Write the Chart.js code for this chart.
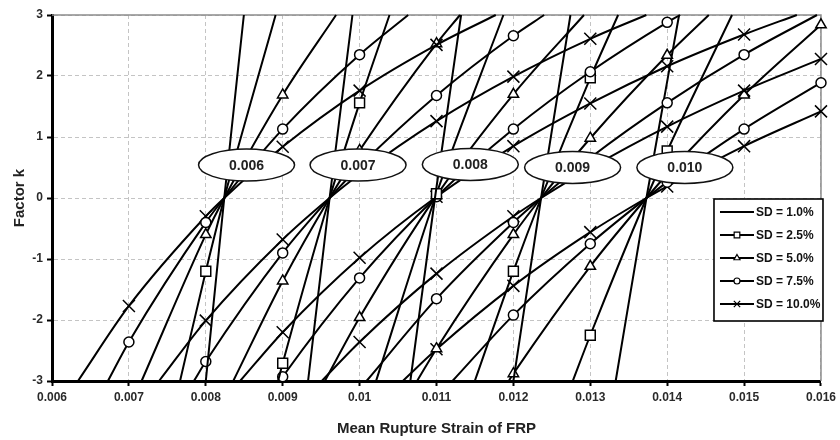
<!DOCTYPE html>
<html>
<head>
<meta charset="utf-8">
<script src="https://cdn.jsdelivr.net/npm/chart.js@4/dist/chart.umd.min.js"></script>
<style>
  html, body { margin: 0; padding: 0; background: #fff; }
  #wrap { width: 840px; height: 440px; }
</style>
</head>
<body>
<div id="wrap"><canvas id="chart" width="840" height="440"></canvas></div>
<script>
// Axis ticks
const xTickValues = [0.006, 0.007, 0.008, 0.009, 0.010, 0.011, 0.012, 0.013, 0.014, 0.015, 0.016];
const xTickLabels = ['0.006', '0.007', '0.008', '0.009', '0.01', '0.011', '0.012', '0.013', '0.014', '0.015', '0.016'];
const yTickValues = [-3, -2, -1, 0, 1, 2, 3];
const yTickLabels = ['-3', '-2', '-1', '0', '1', '2', '3'];

// Series: standard deviation of the rupture strain
const sdLabels = ['SD = 1.0%', 'SD = 2.5%', 'SD = 5.0%', 'SD = 7.5%', 'SD = 10.0%'];

// Design rupture strains, one family of curves each
const designLabels = ['0.006', '0.007', '0.008', '0.009', '0.010'];
// Where each design-strain tag sits (mean strain, k)
const tagStrain = [0.00853, 0.00998, 0.01144, 0.01277, 0.01423];
const tagK = [0.54, 0.54, 0.55, 0.50, 0.50];

// [mean rupture strain, factor k] points; one list per SD, in sdLabels order
const curves006 = [
  [[0.00800, -3], [0.00824, 0], [0.008495, 3]],
  [[0.007665, -3], [0.008, -1.2], [0.00824, 0], [0.008908, 3]],
  [[0.007165, -3], [0.008, -0.6], [0.00824, 0], [0.009, 1.69], [0.009694, 3]],
  [[0.006727, -3], [0.007, -2.36], [0.008, -0.4], [0.00824, 0], [0.009, 1.13], [0.010, 2.35], [0.010632, 3]],
  [[0.006338, -3], [0.007, -1.77], [0.008, -0.3], [0.00824, 0], [0.009, 0.84], [0.010, 1.76], [0.011, 2.51], [0.011771, 3]]
];
const curves007 = [
  [[0.00933, -3], [0.00961, 0], [0.009907, 3]],
  [[0.00894, -3], [0.009, -2.71], [0.00961, 0], [0.010, 1.56], [0.010389, 3]],
  [[0.008357, -3], [0.009, -1.36], [0.00961, 0], [0.010, 0.78], [0.011, 2.53], [0.011306, 3]],
  [[0.007845, -3], [0.008, -2.68], [0.009, -0.9], [0.00961, 0], [0.010, 0.52], [0.011, 1.68], [0.012, 2.66], [0.0124, 3]],
  [[0.007392, -3], [0.008, -2.01], [0.009, -0.68], [0.00961, 0], [0.010, 0.39], [0.011, 1.26], [0.012, 1.99], [0.013, 2.61], [0.013729, 3]]
];
const curves008 = [
  [[0.01066, -3], [0.01098, 0], [0.01132, 3]],
  [[0.010214, -3], [0.011, 0.07], [0.01187, 3]],
  [[0.009548, -3], [0.010, -1.96], [0.011, 0.04], [0.012, 1.7], [0.012918, 3]],
  [[0.008963, -3], [0.009, -2.93], [0.010, -1.31], [0.011, 0.02], [0.012, 1.13], [0.013, 2.07], [0.014, 2.88], [0.014168, 3]],
  [[0.008446, -3], [0.009, -2.2], [0.010, -0.98], [0.011, 0.02], [0.012, 0.85], [0.013, 1.55], [0.014, 2.16], [0.015, 2.68], [0.015686, 3]]
];
const curves009 = [
  [[0.01200, -3], [0.01236, 0], [0.012742, 3]],
  [[0.011498, -3], [0.012, -1.2], [0.01236, 0], [0.013, 1.97], [0.013362, 3]],
  [[0.010748, -3], [0.011, -2.47], [0.012, -0.6], [0.01236, 0], [0.013, 0.98], [0.014, 2.34], [0.014541, 3]],
  [[0.01009, -3], [0.011, -1.65], [0.012, -0.4], [0.01236, 0], [0.013, 0.66], [0.014, 1.56], [0.015, 2.35], [0.015948, 3]],
  [[0.009508, -3], [0.010, -2.36], [0.011, -1.24], [0.012, -0.3], [0.01236, 0], [0.013, 0.49], [0.014, 1.17], [0.015, 1.76], [0.016, 2.28]]
];
const curves010 = [
  [[0.01333, -3], [0.01373, 0], [0.014155, 3]],
  [[0.012772, -3], [0.013, -2.25], [0.01373, 0], [0.014, 0.77], [0.014843, 3]],
  [[0.011939, -3], [0.012, -2.88], [0.013, -1.12], [0.01373, 0], [0.014, 0.39], [0.015, 1.69], [0.016, 2.84]],
  [[0.011208, -3], [0.012, -1.92], [0.013, -0.75], [0.01373, 0], [0.014, 0.26], [0.015, 1.13], [0.016, 1.89]],
  [[0.010562, -3], [0.011, -2.48], [0.012, -1.44], [0.013, -0.56], [0.01373, 0], [0.014, 0.19], [0.015, 0.85], [0.016, 1.42]]
];
const families = [curves006, curves007, curves008, curves009, curves010];

// Marker look for each SD series
const markerStyle = [
  { style: false, radius: 0, legendRadius: 0 },
  { style: 'rect', radius: 7, legendRadius: 4 },
  { style: 'triangle', radius: 6, legendRadius: 3.5 },
  { style: 'circle', radius: 5, legendRadius: 3 },
  { style: 'crossRot', radius: 8.5, legendRadius: 4.5 }
];

const FONT = "'Liberation Sans', Arial, Helvetica, sans-serif";
Chart.defaults.font.family = FONT;

// Markers only where a curve meets a 0.001 strain gridline
function onGridStrain(x) {
  return Math.abs(x * 1000 - Math.round(x * 1000)) < 1e-6;
}

const datasets = [];
families.forEach((fam, g) => {
  fam.forEach((pts, s) => {
    const m = markerStyle[s];
    datasets.push({
      label: designLabels[g] + ' ' + sdLabels[s],
      data: pts.map(([x, y]) => ({ x, y })),
      borderColor: '#000',
      borderWidth: 2,
      cubicInterpolationMode: 'monotone',
      fill: false,
      clip: false,
      pointStyle: m.style || 'circle',
      pointRadius: ctx => (m.radius && ctx.raw && onGridStrain(ctx.raw.x)) ? m.radius : 0,
      pointHoverRadius: 0,
      pointBackgroundColor: '#fff',
      pointBorderColor: '#000',
      pointBorderWidth: 1.5
    });
  });
});

// Solid frame on top/right plus design-strain tags and legend box
const decorations = {
  id: 'decorations',
  beforeDatasetsDraw(chart) {
    const { ctx, chartArea: a } = chart;
    ctx.save();
    ctx.strokeStyle = '#8c8c8c';
    ctx.lineWidth = 1.5;
    ctx.beginPath();
    ctx.moveTo(a.left, a.top);
    ctx.lineTo(a.right, a.top);
    ctx.lineTo(a.right, a.bottom);
    ctx.stroke();
    ctx.restore();
  },
  afterDatasetsDraw(chart) {
    const { ctx, chartArea: a, scales } = chart;
    const xs = scales.x, ys = scales.y;
    ctx.save();
    // design-strain tags
    designLabels.forEach((txt, i) => {
      const cx = xs.getPixelForValue(tagStrain[i]);
      const cy = ys.getPixelForValue(tagK[i]);
      ctx.beginPath();
      ctx.ellipse(cx, cy, 48, 16, 0, 0, Math.PI * 2);
      ctx.fillStyle = '#fff';
      ctx.fill();
      ctx.lineWidth = 1.5;
      ctx.strokeStyle = '#111';
      ctx.stroke();
      ctx.fillStyle = '#222';
      ctx.font = 'bold 14px ' + FONT;
      ctx.textAlign = 'center';
      ctx.textBaseline = 'middle';
      ctx.fillText(txt, cx, cy + 1);
    });
    // legend
    const bx = a.right - 107, by = a.top + 184, bw = 109, bh = 122;
    ctx.fillStyle = '#fff';
    ctx.fillRect(bx, by, bw, bh);
    ctx.lineWidth = 1.6;
    ctx.strokeStyle = '#000';
    ctx.strokeRect(bx, by, bw, bh);
    sdLabels.forEach((txt, i) => {
      const y = by + 13 + i * 23;
      ctx.beginPath();
      ctx.moveTo(bx + 6, y);
      ctx.lineTo(bx + 40, y);
      ctx.lineWidth = 2;
      ctx.strokeStyle = '#000';
      ctx.stroke();
      const m = markerStyle[i];
      if (m.style) {
        ctx.fillStyle = '#fff';
        ctx.strokeStyle = '#000';
        ctx.lineWidth = 1.2;
        Chart.helpers.drawPoint(ctx, { pointStyle: m.style, radius: m.legendRadius, rotation: 0, borderWidth: 1.2 }, bx + 23, y);
      }
      ctx.fillStyle = '#111';
      ctx.font = 'bold 12px ' + FONT;
      ctx.textAlign = 'left';
      ctx.textBaseline = 'middle';
      ctx.fillText(txt, bx + 42, y + 1);
    });
    ctx.restore();
  }
};

new Chart(document.getElementById('chart'), {
  type: 'line',
  data: { datasets },
  options: {
    responsive: false,
    devicePixelRatio: 1,
    animation: false,
    events: [],
    layout: { padding: { left: 0, right: 16, top: 15, bottom: 0 } },
    plugins: { legend: { display: false }, tooltip: { enabled: false } },
    scales: {
      x: {
        type: 'linear',
        min: 0.006,
        max: 0.016,
        afterBuildTicks: s => { s.ticks = xTickValues.map(v => ({ value: v })); },
        afterFit: s => { s.height = 59; },
        ticks: {
          callback: (v, i) => xTickLabels[i],
          autoSkip: false,
          maxRotation: 0,
          padding: 4,
          color: '#2a2a2a',
          font: { size: 12, weight: 'bold' }
        },
        grid: { color: '#c4c4c4', lineWidth: 1, tickLength: 5, tickColor: '#000', tickWidth: 2 },
        border: { color: '#000', width: 3, dash: [4, 3] },
        title: {
          display: true,
          text: 'Mean Rupture Strain of FRP',
          color: '#222',
          font: { size: 15, weight: 'bold' },
          padding: { top: 0, bottom: 2 }
        }
      },
      y: {
        type: 'linear',
        min: -3,
        max: 3,
        afterBuildTicks: s => { s.ticks = yTickValues.map(v => ({ value: v })); },
        afterFit: s => { s.width = 52; },
        ticks: {
          callback: (v, i) => yTickLabels[i],
          padding: 4,
          color: '#2a2a2a',
          font: { size: 12, weight: 'bold' }
        },
        grid: { color: '#c4c4c4', lineWidth: 1, tickLength: 5, tickColor: '#000', tickWidth: 2 },
        border: { color: '#000', width: 3, dash: [4, 3] },
        title: {
          display: true,
          text: 'Factor k',
          color: '#222',
          font: { size: 15, weight: 'bold' },
          padding: { top: 11, bottom: 0 }
        }
      }
    }
  },
  plugins: [decorations]
});
</script>
</body>
</html>
